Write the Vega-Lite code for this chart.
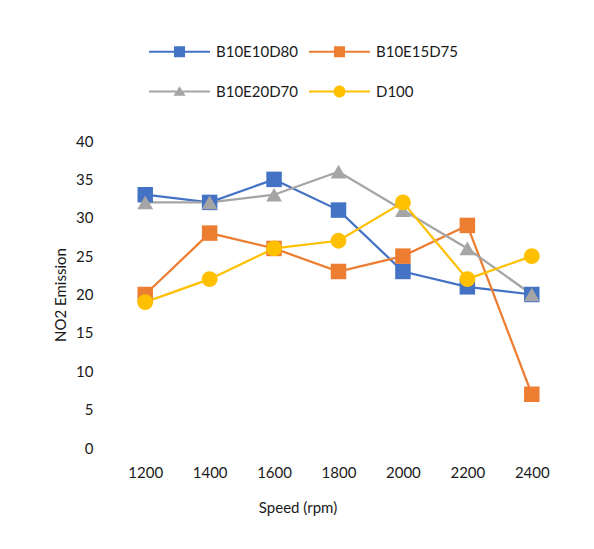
{
  "$schema": "https://vega.github.io/schema/vega-lite/v6.json",
  "width": 451,
  "height": 307,
  "autosize": "none",
  "padding": {"left": 113, "top": 141, "right": 30, "bottom": 101},
  "background": "white",
  "config": {
    "view": {"stroke": null},
    "font": "Lato",
    "axis": {"labelFont": "Lato", "titleFont": "Lato", "labelColor": "#1a1a1a", "titleColor": "#1a1a1a", "labelFontSize": 15, "titleFontSize": 15, "titleFontWeight": "normal", "domain": false, "ticks": false, "grid": false},
    "legend": {"labelFont": "Lato", "labelFontSize": 15, "labelColor": "#1a1a1a"}
  },
  "data": {
    "values": [
      {"speed": "1200", "series": "B10E10D80", "value": 33},
      {"speed": "1400", "series": "B10E10D80", "value": 32},
      {"speed": "1600", "series": "B10E10D80", "value": 35},
      {"speed": "1800", "series": "B10E10D80", "value": 31},
      {"speed": "2000", "series": "B10E10D80", "value": 23},
      {"speed": "2200", "series": "B10E10D80", "value": 21},
      {"speed": "2400", "series": "B10E10D80", "value": 20},
      {"speed": "1200", "series": "B10E15D75", "value": 20},
      {"speed": "1400", "series": "B10E15D75", "value": 28},
      {"speed": "1600", "series": "B10E15D75", "value": 26},
      {"speed": "1800", "series": "B10E15D75", "value": 23},
      {"speed": "2000", "series": "B10E15D75", "value": 25},
      {"speed": "2200", "series": "B10E15D75", "value": 29},
      {"speed": "2400", "series": "B10E15D75", "value": 7},
      {"speed": "1200", "series": "B10E20D70", "value": 32},
      {"speed": "1400", "series": "B10E20D70", "value": 32},
      {"speed": "1600", "series": "B10E20D70", "value": 33},
      {"speed": "1800", "series": "B10E20D70", "value": 36},
      {"speed": "2000", "series": "B10E20D70", "value": 31},
      {"speed": "2200", "series": "B10E20D70", "value": 26},
      {"speed": "2400", "series": "B10E20D70", "value": 20},
      {"speed": "1200", "series": "D100", "value": 19},
      {"speed": "1400", "series": "D100", "value": 22},
      {"speed": "1600", "series": "D100", "value": 26},
      {"speed": "1800", "series": "D100", "value": 27},
      {"speed": "2000", "series": "D100", "value": 32},
      {"speed": "2200", "series": "D100", "value": 22},
      {"speed": "2400", "series": "D100", "value": 25}
    ]
  },
  "encoding": {
    "x": {"field": "speed", "type": "ordinal", "scale": {"type": "point", "padding": 0.5},
      "axis": {"title": "Speed (rpm)", "labelAngle": 0, "labelPadding": 17, "titleX": 184.5, "titleY": 59, "titleBaseline": "middle", "titleAnchor": null}},
    "y": {"field": "value", "type": "quantitative", "scale": {"domain": [0, 40], "nice": false},
      "axis": {"title": "NO2 Emission", "values": [0, 5, 10, 15, 20, 25, 30, 35, 40], "labelPadding": 20, "titleX": -53, "titleY": 153.5, "titleBaseline": "middle", "titleAngle": -90}},
    "color": {"field": "series", "type": "nominal",
      "scale": {"domain": ["B10E10D80", "B10E15D75", "B10E20D70", "D100"], "range": ["#4472C4", "#ED7D31", "#A5A5A5", "#FFC000"]},
      "legend": {"title": null, "orient": "none", "legendX": 59, "legendY": -97, "direction": "horizontal", "columns": 2, "columnPadding": 10, "rowPadding": 24, "padding": 0, "symbolSize": 196, "labelOffset": 29, "symbolStrokeWidth": 0, "symbolOpacity": 1}
    }
  },
  "layer": [
    {"mark": {"type": "line", "strokeWidth": 2.25}},
    {"transform": [{"filter": "datum.series == 'B10E10D80' || datum.series == 'B10E15D75'"}],
     "mark": {"type": "point", "filled": true, "opacity": 1, "size": 240, "shape": "square"}},
    {"transform": [{"filter": "datum.series == 'B10E20D70'"}],
     "mark": {"type": "point", "filled": true, "opacity": 1, "size": 250, "shape": "triangle-up"}},
    {"transform": [{"filter": "datum.series == 'D100'"}],
     "mark": {"type": "point", "filled": true, "opacity": 1, "size": 250, "shape": "circle"}},
    {"mark": {"type": "point", "filled": true, "opacity": 0, "size": 10},
      "encoding": {
        "shape": {"field": "series", "type": "nominal",
          "scale": {"domain": ["B10E10D80", "B10E15D75", "B10E20D70", "D100"],
            "range": [
              "M-4.36,-0.16H-0.79V0.16H-4.36Z M0.79,-0.16H4.36V0.16H0.79Z M-0.79,-0.79H0.79V0.79H-0.79Z",
              "M-4.36,-0.16H-0.79V0.16H-4.36Z M0.79,-0.16H4.36V0.16H0.79Z M-0.79,-0.79H0.79V0.79H-0.79Z",
              "M-4.36,-0.16H-0.47V0.16H-4.36Z M0.47,-0.16H4.36V0.16H0.47Z M0,-0.75L0.86,0.6H-0.86Z",
              "M-4.36,-0.16H-0.86V0.16H-4.36Z M0.86,-0.16H4.36V0.16H0.86Z M-0.86,0A0.86,0.86 0 1,0 0.86,0A0.86,0.86 0 1,0 -0.86,0Z"
            ]},
          "legend": {"title": null, "orient": "none", "legendX": 59, "legendY": -97, "direction": "horizontal", "columns": 2, "columnPadding": 10, "rowPadding": 24, "padding": 0, "symbolSize": 196, "labelOffset": 29, "symbolStrokeWidth": 0, "symbolOpacity": 1}
        }
      }}
  ]
}
